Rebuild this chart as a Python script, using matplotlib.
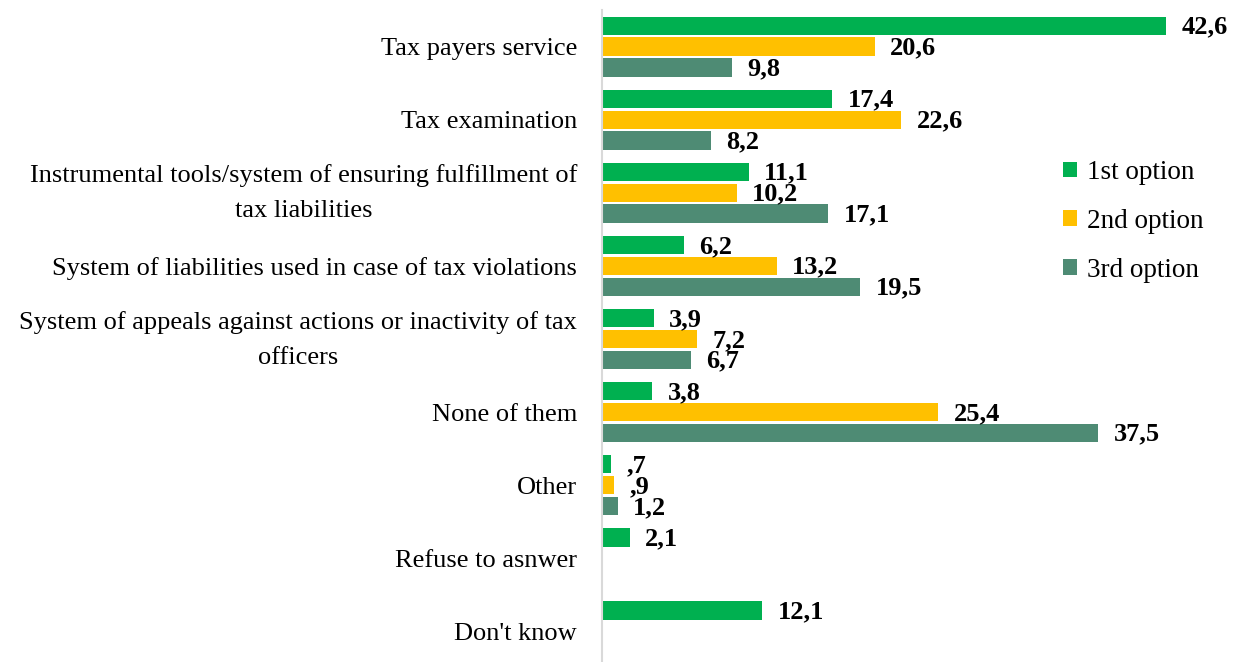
import numpy as np
import matplotlib.pyplot as plt

categories = [
    "Tax payers service",
    "Tax examination",
    "Instrumental tools/system of ensuring fulfillment of\ntax liabilities",
    "System of liabilities used in case of tax violations",
    "System of appeals against actions or inactivity of tax\nofficers",
    "None of them",
    "Other",
    "Refuse to asnwer",
    "Don't know",
]
first_option = [42.6, 17.4, 11.1, 6.2, 3.9, 3.8, 0.7, 2.1, 12.1]
second_option = [20.6, 22.6, 10.2, 13.2, 7.2, 25.4, 0.9, np.nan, np.nan]
third_option = [9.8, 8.2, 17.1, 19.5, 6.7, 37.5, 1.2, np.nan, np.nan]
series_names = ["1st option", "2nd option", "3rd option"]
colors = ["#00B050", "#FFC000", "#4E8B74"]

plt.rcParams['font.family'] = ['Liberation Serif', 'DejaVu Serif']


def fmt(v):
    # decimal comma, no leading zero (",7")
    s = f"{v:.1f}".replace(".", ",")
    return s[1:] if s.startswith("0,") else s


fig = plt.figure(figsize=(12.42, 6.62), dpi=100)
ax = fig.add_axes([602 / 1242, 0, (1242 - 602) / 1242, 652 / 662])

y = np.arange(len(categories))
bar_h = 0.25
offsets = [-0.285, 0.0, 0.285]
for vals, off, col, name in zip([first_option, second_option, third_option],
                                offsets, colors, series_names):
    ax.barh(y + off, vals, height=bar_h, color=col, label=name)
    for yi, v in zip(y, vals):
        if np.isnan(v):
            continue
        ax.annotate(fmt(v), (v, yi + off), xytext=(11, -1),
                    textcoords='offset points', va='center', ha='left',
                    fontsize=19, weight='bold', color='black')

ax.set_xlim(0, 640 / (564 / 42.6))
ax.set_ylim(-0.5 + 652 / 73.1, -0.5)

# category names, drawn as text so the two-line ones can be nudged up
for yi, name in zip(y, categories):
    dy = 6 if '\n' in name else 0
    ax.annotate(name, (0, yi), xycoords=('axes fraction', 'data'),
                xytext=(-18, dy), textcoords='offset points',
                ha='right', va='center_baseline', multialignment='center',
                linespacing=1.76, fontsize=19)

ax.set_yticks([])
ax.set_xticks([])
for side in ['top', 'right', 'bottom']:
    ax.spines[side].set_visible(False)
ax.spines['left'].set_color('#D9D9D9')
ax.spines['left'].set_linewidth(1.5)

fig.legend(loc='upper left', bbox_to_anchor=(1063 / 1242, 1 - 160 / 662),
           frameon=False, fontsize=19.5, handlelength=0.52, handleheight=0.52,
           labelspacing=0.88, handletextpad=0.37, borderpad=0,
           borderaxespad=0)

fig.savefig('out.png', dpi=100)
